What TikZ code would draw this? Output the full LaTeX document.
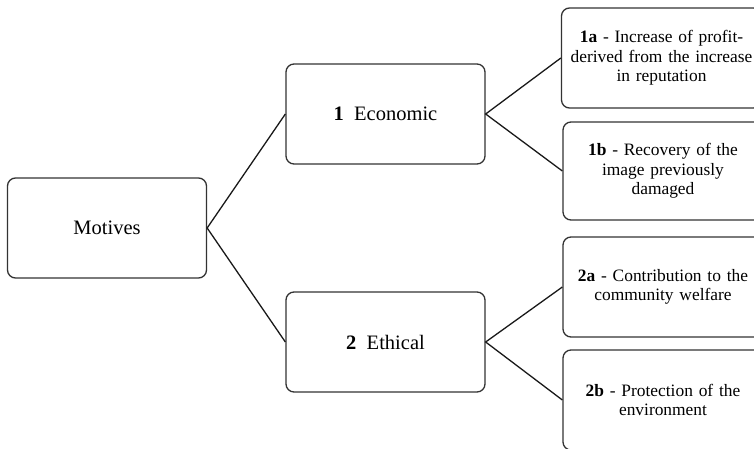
\documentclass[tikz,border=0pt]{standalone}
\usepackage{fontspec}
\setmainfont{Liberation Serif}
\begin{document}
\begin{tikzpicture}[x=1pt,y=-1pt,
  box/.style={draw=black!80, line width=1.3pt, rounded corners=8pt, minimum width=199pt, minimum height=100pt, align=center, inner sep=2pt},
  bigtxt/.style={font=\fontsize{20.5}{24}\selectfont},
  smalltxt/.style={font=\fontsize{17.4}{19.4}\selectfont, text width=194pt},
  link/.style={draw=black!90, line width=1.3pt}]
\useasboundingbox (0,0) rectangle (754,449);
\clip (0,0) rectangle (754,449);
\node[box,bigtxt] (mot) at (107,228) {Motives};
\node[box,bigtxt] (eco) at (385.5,114) {\textbf{1}\enspace Economic};
\node[box,bigtxt] (eth) at (385.5,342) {\textbf{2}\enspace Ethical};
\node[box,smalltxt,minimum width=200pt] (a1) at (661.5,58) {\textbf{1a} - Increase of profit-\\derived from the increase\\in reputation};
\node[box,smalltxt,minimum width=200pt,minimum height=98pt] (b1) at (663,171) {\textbf{1b} - Recovery of the\\image previously\\damaged};
\node[box,smalltxt,minimum width=200pt] (a2) at (663,287) {\textbf{2a} - Contribution to the\\community welfare};
\node[box,smalltxt,minimum width=200pt] (b2) at (663,400) {\textbf{2b} - Protection of the\\environment};
\draw[link] (eco.west) -- (mot.east) -- (eth.west);
\draw[link] (a1.west) -- (eco.east) -- (b1.west);
\draw[link] (a2.west) -- (eth.east) -- (b2.west);
\end{tikzpicture}
\end{document}
